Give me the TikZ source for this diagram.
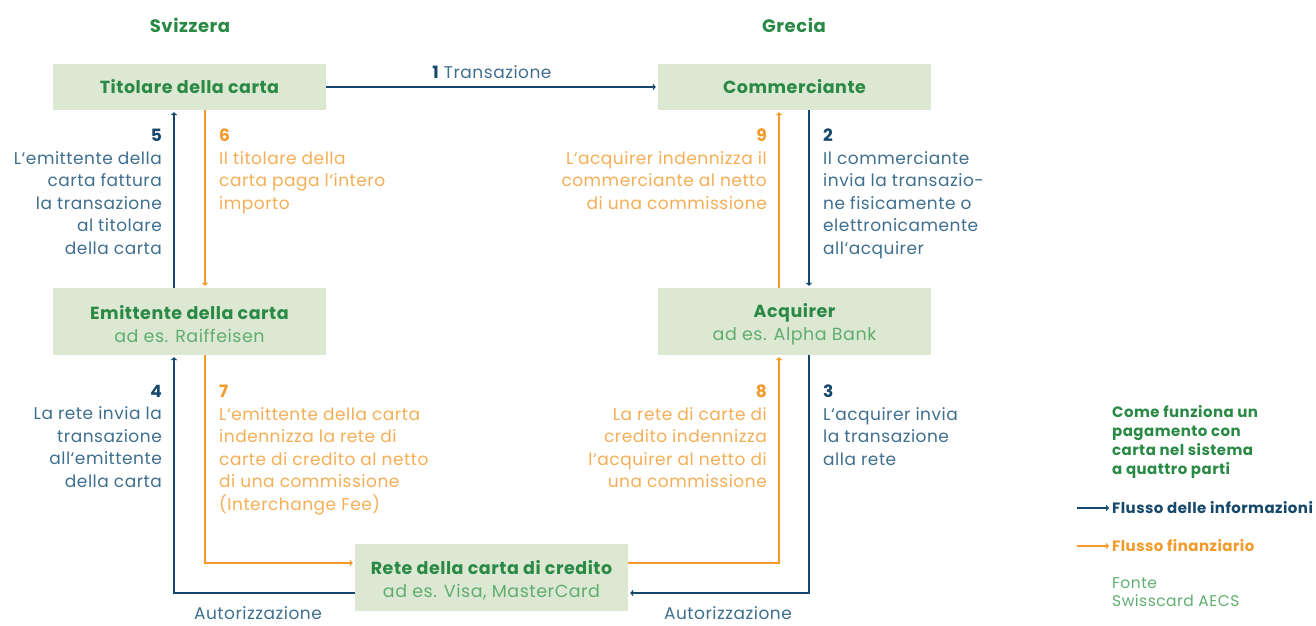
\documentclass[tikz,border=0pt]{standalone}
\usepackage{fontspec}
\setmainfont{Poppins}[LetterSpace=3]
\usetikzlibrary{arrows.meta}
\definecolor{gbold}{HTML}{2A8A45}
\definecolor{glight}{HTML}{5FAE70}
\definecolor{boxfill}{HTML}{DDE8D3}
\definecolor{dblue}{HTML}{15486B}
\definecolor{tblue}{HTML}{3F6F8E}
\definecolor{dorange}{HTML}{F39A2A}
\definecolor{torange}{HTML}{F5AE55}
\newcommand{\lift}{\rule{0pt}{19pt}}
\tikzset{
  box/.style={fill=boxfill, minimum width=273pt, inner sep=0pt, align=center, font=\fontsize{17.5}{23}\selectfont},
  info/.style={draw=dblue, line width=1.1pt, -{Straight Barb[length=2.2pt,width=5pt]}, shorten >=2pt},
  fin/.style={draw=dorange, line width=1.1pt, -{Straight Barb[length=2.2pt,width=5pt]}, shorten >=2pt},
  ltxt/.style={inner sep=0pt, align=right, anchor=north east, font=\fontsize{17}{22.5}\selectfont},
  rtxt/.style={inner sep=0pt, align=left, anchor=north west, font=\fontsize{17}{22.5}\selectfont},
  ttl/.style={font=\fontsize{18}{20}\selectfont\bfseries, text=gbold, inner sep=0pt}
}
\begin{document}
\begin{tikzpicture}[x=1pt,y=-1pt]
\useasboundingbox (0,0) rectangle (1316,625);
% boxes
\node[box, minimum height=46pt, text=gbold, font=\fontsize{17.5}{20}\selectfont\bfseries] (tit) at (189.5,87) {Titolare della carta};
\node[box, minimum height=46pt, text=gbold, font=\fontsize{17.5}{20}\selectfont\bfseries] (com) at (794.5,87) {Commerciante};
\node[box, minimum height=67pt] (emi) at (189.5,321.5) {\lift\textcolor{gbold}{\bfseries Emittente della carta}\\ \textcolor{glight}{ad es. Raiffeisen}};
\node[box, minimum height=67pt] (acq) at (794.5,321.5) {\lift\textcolor{gbold}{\bfseries Acquirer}\\ \textcolor{glight}{ad es. Alpha Bank}};
\node[box, minimum height=67pt] (ret) at (491.5,577.5) {\lift\textcolor{gbold}{\bfseries Rete della carta di credito}\\ \textcolor{glight}{ad es. Visa, MasterCard}};
% headings
\node[ttl] (sv) at (190,25) {Svizzera};
\node[ttl] (gr) at (794,25) {Grecia};
% x positions
\coordinate (xa) at (174,0);
\coordinate (xb) at (205,0);
\coordinate (xc) at (779,0);
\coordinate (xd) at (809,0);
\coordinate (yf) at (0,563);
\coordinate (yi) at (0,593);
% arrows
\draw[info] (tit.east) -- node[above=4pt, font=\fontsize{17}{20}\selectfont, text=tblue] (l1) {\textcolor{dblue}{\bfseries 1} Transazione} (com.west);
\draw[info] (emi.north -| xa) -- (tit.south -| xa);
\draw[fin] (tit.south -| xb) -- (emi.north -| xb);
\draw[fin] (acq.north -| xc) -- (com.south -| xc);
\draw[info] (com.south -| xd) -- (acq.north -| xd);
\draw[info] (ret.west |- yi) -| (emi.south -| xa);
\draw[fin] (emi.south -| xb) |- (ret.west |- yf);
\draw[fin] (ret.east |- yf) -| (acq.south -| xc);
\draw[info] (acq.south -| xd) |- (ret.east |- yi);
% labels
\node[ltxt, text=tblue] (t5) at (162,129) {\textcolor{dblue}{\bfseries 5}\\L‘emittente della\\carta fattura\\la transazione\\al titolare\\della carta};
\node[rtxt, text=torange] (t6) at (219,129) {\textcolor{dorange}{\bfseries 6}\\Il titolare della\\carta paga l‘intero\\importo};
\node[ltxt, text=torange] (t9) at (767,129) {\textcolor{dorange}{\bfseries 9}\\L‘acquirer indennizza il\\commerciante al netto\\di una commissione};
\node[rtxt, text=tblue] (t2) at (823,129) {\textcolor{dblue}{\bfseries 2}\\Il commerciante\\invia la transazio-\\ne fisicamente o\\elettronicamente\\all‘acquirer};
\node[ltxt, text=tblue] (t4) at (162,385) {\textcolor{dblue}{\bfseries 4}\\La rete invia la\\transazione\\all‘emittente\\della carta};
\node[rtxt, text=torange] (t7) at (219,385) {\textcolor{dorange}{\bfseries 7}\\L‘emittente della carta\\indennizza la rete di\\carte di credito al netto\\di una commissione\\(Interchange Fee)};
\node[ltxt, text=torange] (t8) at (767,385) {\textcolor{dorange}{\bfseries 8}\\La rete di carte di\\credito indennizza\\l‘acquirer al netto di\\una commissione};
\node[rtxt, text=tblue] (t3) at (823,385) {\textcolor{dblue}{\bfseries 3}\\L‘acquirer invia\\la transazione\\alla rete};
\node[text=tblue, font=\fontsize{17}{20}\selectfont, inner sep=0pt] (au1) at (258,613) {Autorizzazione};
\node[text=tblue, font=\fontsize{17}{20}\selectfont, inner sep=0pt] (au2) at (728,613) {Autorizzazione};
% legend
\node[inner sep=0pt, anchor=north west, align=left, text=gbold, font=\fontsize{15}{19}\selectfont\bfseries] (lg) at (1112,405) {Come funziona un\\pagamento con\\carta nel sistema\\a quattro parti};
\node[inner sep=0pt, anchor=west, text=dblue, font=\fontsize{15}{18}\selectfont\bfseries] (li) at (1112,508) {Flusso delle informazioni};
\node[inner sep=0pt, anchor=west, text=dorange, font=\fontsize{15}{18}\selectfont\bfseries] (lf) at (1112,546) {Flusso finanziario};
\coordinate (li0) at (1077,508);
\coordinate (lf0) at (1077,546);
\draw[info, shorten >=3pt] (li0) -- (li.west);
\draw[fin, shorten >=3pt] (lf0) -- (lf.west);
\node[inner sep=0pt, anchor=north west, align=left, text=glight, font=\fontsize{15.5}{18}\selectfont] (src) at (1112,577) {Fonte\\Swisscard AECS};
\end{tikzpicture}
\end{document}
